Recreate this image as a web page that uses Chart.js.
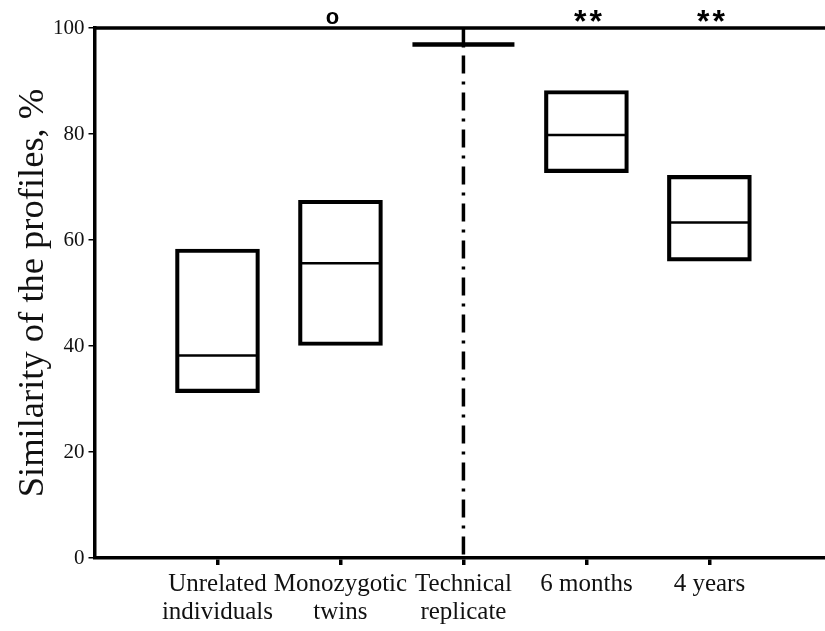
<!DOCTYPE html>
<html><head><meta charset="utf-8">
<script src="https://cdn.jsdelivr.net/npm/chart.js@4"></script>
<style>html,body{margin:0;padding:0;background:#fff;overflow:hidden}</style>
</head><body><canvas id="c" width="825" height="631"></canvas>
<script>
const categories = [["Unrelated","individuals"],["Monozygotic","twins"],["Technical","replicate"],["6 months"],["4 years"]];
const categoryPositions = [1,2,3,4,5];
const boxPositions = [1,2,4,5];
const boxLow = [31.2,40.1,72.7,56.0];
const boxHigh = [58.3,67.5,88.2,72.2];
const boxMedian = [38.2,55.6,79.8,63.3];
const replicatePosition = 3;
const replicateValue = 96.9;
const significance = ["", "o", "", "**", "**"];
const yTicks = [0,20,40,60,80,100];

const frameAndMarks = {
  id:'frameAndMarks',
  afterDraw(chart){
    const {ctx, chartArea, scales} = chart;
    ctx.save();
    ctx.strokeStyle='#000'; ctx.lineWidth=3.5;
    ctx.beginPath(); ctx.moveTo(chartArea.left-1.5, chartArea.top); ctx.lineTo(chartArea.right, chartArea.top); ctx.stroke();
    ctx.fillStyle='#000'; ctx.textAlign='center'; ctx.textBaseline='alphabetic';
    significance.forEach((s,i)=>{
      if(!s) return;
      const x = scales.x.getPixelForValue(categoryPositions[i]);
      if(s==='o'){ ctx.font='bold 22px "Liberation Sans"'; ctx.fillText(s, x-8, chartArea.top-4); }
      else { ctx.font='bold 32px "Liberation Sans"'; ctx.letterSpacing='3px'; ctx.fillText(s, x+3, chartArea.top+4); ctx.letterSpacing='0px'; }
    });
    ctx.restore();
  }
};

new Chart(document.getElementById('c'), {
  type:'bar',
  data:{datasets:[
    {type:'bar', data: boxPositions.map((x,i)=>({x, y:[boxLow[i], boxHigh[i]]})), backgroundColor:'rgba(255,255,255,0)', borderColor:'#000', borderWidth:3.5, borderSkipped:false, barThickness:84, order:3},
    {type:'scatter', data: boxPositions.map((x,i)=>({x, y:boxMedian[i]})), pointStyle:'line', pointRadius:40, pointHoverRadius:40, borderColor:'#000', pointBorderColor:'#000', pointBorderWidth:2.5, order:2},
    {type:'scatter', data:[{x:replicatePosition, y:replicateValue}], pointStyle:'line', pointRadius:51, pointHoverRadius:51, pointBorderColor:'#000', borderColor:'#000', pointBorderWidth:4.5, order:1},
    {type:'line', data:[{x:replicatePosition, y:replicateValue},{x:replicatePosition, y:100}], borderColor:'#000', borderWidth:3.5, pointRadius:0, order:1},
    {type:'line', data:[{x:replicatePosition, y:replicateValue},{x:replicatePosition, y:0}], borderColor:'#000', borderWidth:3.5, pointRadius:0, borderDash:[3,8,18,8], borderCapStyle:'butt', order:1}
  ]},
  options:{
    responsive:false, animation:false, events:[],
    layout:{autoPadding:false, padding:{left:15.5, top:28, right:0, bottom:0}},
    plugins:{legend:{display:false}, tooltip:{enabled:false}},
    scales:{
      x:{type:'linear', min:0, max:5.94, offset:false,
        afterBuildTicks: s=>{ s.ticks = categoryPositions.map(v=>({value:v})); },
        grid:{display:true, offset:false, drawOnChartArea:false, drawTicks:true, tickLength:7, color:'#000', lineWidth:3.5},
        border:{display:true, color:'#000', width:3.5},
        ticks:{autoSkip:false, maxRotation:0, minRotation:0, padding:5, color:'#111',
          font:{family:'Liberation Serif', size:25, lineHeight:1.12},
          callback:(v)=>categories[categoryPositions.indexOf(v)]}
      },
      y:{type:'linear', min:0, max:100,
        afterBuildTicks: s=>{ s.ticks = yTicks.map(v=>({value:v})); },
        grid:{display:true, drawOnChartArea:false, drawTicks:true, tickLength:6, color:'#000', lineWidth:1.5},
        border:{display:true, color:'#000', width:3.5},
        ticks:{padding:4, color:'#111', font:{family:'Liberation Serif', size:21}},
        title:{display:true, text:'Similarity of the profiles, %', color:'#111', padding:{top:0,bottom:-3}, font:{family:'Liberation Serif', size:36.5, lineHeight:1.0}}
      }
    }
  },
  plugins:[frameAndMarks]
});
</script></body></html>
